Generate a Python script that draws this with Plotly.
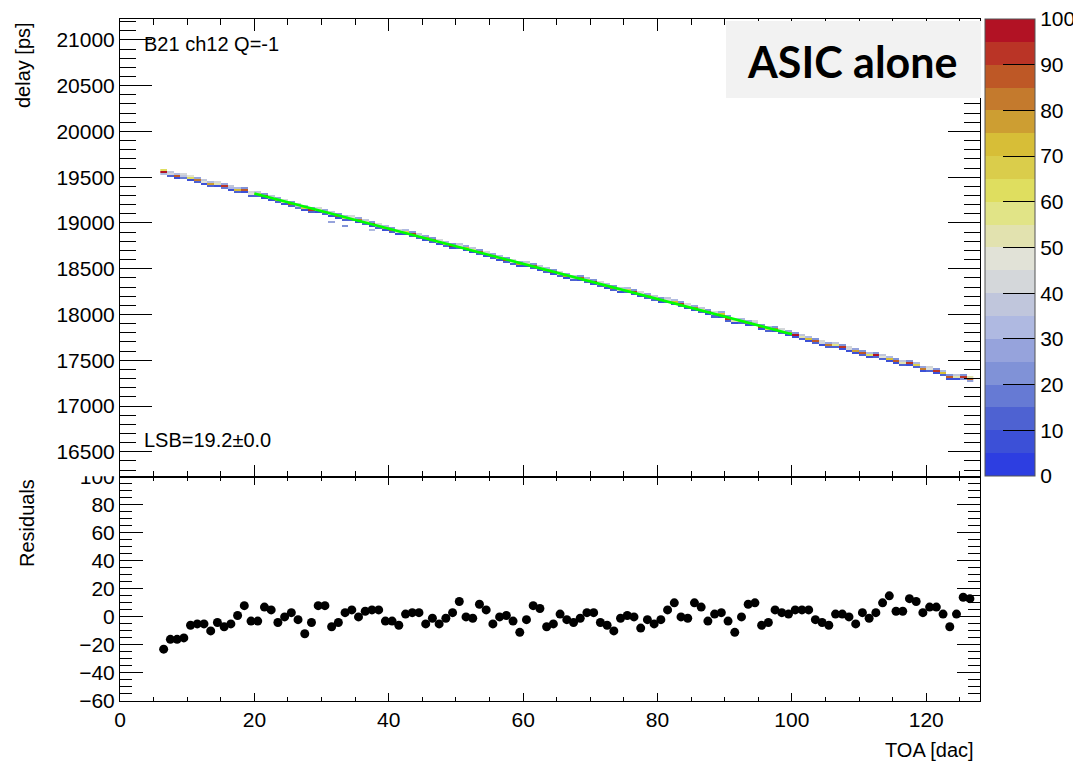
import plotly.graph_objects as go

# page body has an 8 px margin: build the figure 8 px smaller and shift
OFF = 8
W, H = 1081 - OFF, 765 - OFF

# ---------------- data ----------------
toa = [6.5 + i for i in range(121)]  # TOA bin centres [dac]

residuals = [
    -23, -16, -16, -15, -6, -5, -5, -10, -4, -7,
    -5, 1, 8, -3, -3, 7, 5, -4, 0, 3,
    -2, -12, -4, 8, 8, -7, -4, 3, 5, 0,
    4, 5, 5, -3, -3, -6,
    2, 3, 3, -5, -1, -5, -1, 3, 11, 0,
    -1, 9, 5, -5, 0, 1, -3, -11, -2, 8,
    6, -7, -5, 2, -2, -4, -1, 3, 3, -4,
    -6, -10, -1, 1, 0, -8, -2, -5, -2, 5,
    10, 0, -1, 10, 7, -3, 2, 3, -3, -11,
    0, 9, 10, -6, -4, 5, 3, 2, 5, 5,
    5, -2, -4, -6, 2, 2, 0, -5, 3, -1,
    3, 10, 15, 4, 4, 13, 11, 3, 7, 7,
    2, -7, 2, 14, 13,
]

fit_intercept = 19705.0   # ps
fit_slope = -19.2         # ps / dac  (LSB)
fit_range = [20, 100]     # dac

# counts in the most populated delay bin of each TOA column
peak_counts = [
    95, 40, 85, 35, 60, 80, 45, 75, 50, 92,
    30, 70, 88, 45, 60, 90, 40, 78, 55, 85,
    35, 65, 92, 50, 72, 40, 88, 60, 45, 80,
    55, 90, 38, 70, 85, 48, 62, 93, 40, 75,
    86, 52, 68, 95, 42, 74, 58, 88, 36, 80,
    64, 92, 46, 78, 55, 85, 40, 70, 90, 50,
    76, 44, 88, 60, 95, 38, 72, 84, 52, 66,
    90, 45, 78, 58, 86, 40, 70, 94, 48, 82,
    56, 88, 42, 74, 92, 50, 66, 80, 38, 90,
    60, 84, 46, 76, 95, 52, 70, 88, 40, 82,
    58, 92, 44, 78, 86, 62, 96, 48, 74, 88,
    54, 90, 66, 80, 45, 94, 70, 85, 50, 92,
    88,
]
# counts in the bin just above / just below the peak bin
upper_counts = [
    60, 35, 30, 40, 45, 25, 38, 30, 42, 28,
    36, 30, 22, 40, 35, 20, 38, 26, 40, 24,
    36, 32, 20, 42, 28, 38, 22, 34, 40, 26,
    38, 22, 40, 30, 24, 42, 34, 20, 38, 28,
    24, 40, 32, 20, 38, 28, 36, 22, 40, 26,
    34, 20, 40, 28, 36, 24, 38, 30, 22, 40,
    28, 38, 22, 34, 20, 40, 30, 24, 38, 32,
    22, 40, 28, 36, 24, 38, 30, 20, 40, 26,
    36, 22, 40, 28, 20, 38, 32, 26, 40, 22,
    34, 24, 40, 28, 20, 38, 30, 22, 40, 26,
    36, 20, 40, 28, 24, 34, 20, 38, 30, 24,
    38, 22, 32, 26, 40, 20, 30, 24, 38, 22,
    55,
]
lower_counts = [
    30, 10, 8, 15, 6, 12, 9, 14, 7, 18,
    8, 12, 6, 10, 14, 5, 9, 12, 7, 10,
    15, 6, 11, 8, 13, 9, 7, 12, 10, 6,
    14, 8, 10, 6, 12, 9, 7, 11, 13, 8,
    10, 6, 12, 8, 14, 7, 9, 11, 6, 12,
    8, 10, 14, 7, 9, 12, 6, 10, 8, 13,
    7, 11, 9, 12, 6, 14, 8, 10, 7, 12,
    9, 6, 11, 13, 8, 10, 7, 12, 9, 6,
    14, 8, 10, 7, 12, 6, 11, 9, 13, 8,
    10, 7, 12, 9, 6, 14, 8, 11, 7, 10,
    12, 8, 9, 6, 13, 7, 10, 12, 8, 9,
    11, 7, 12, 8, 10, 6, 13, 9, 7, 20,
    25,
]
# isolated low-count entries off the main band: (toa, delay, count)
stray_entries = [(31.5, 19010, 28), (33.5, 18975, 22), (37.5, 18930, 30)]

delay_bin = 22.0          # ps
delay_lo, delay_hi = 16228.0, 21228.0

cbar_ticks = [0, 10, 20, 30, 40, 50, 60, 70, 80, 90, 100]
palette = [
    "#2D3EE1", "#3C50D7", "#4E62D2", "#667AD4", "#8092D7",
    "#96A3DC", "#AFB9E1", "#C0C6DC", "#D4D7DA", "#E1E2D7",
    "#E2E2AF", "#E1E487", "#DFDE5F", "#DACD4B", "#D7BE37",
    "#CD9E32", "#C47A2D", "#BE5826", "#BA3426", "#B21224",
]

# ---------------- build histogram ----------------
nby = int((delay_hi - delay_lo) // delay_bin)
ycent = [delay_lo + delay_bin * (j + 0.5) for j in range(nby)]
z = [[None] * len(toa) for _ in range(nby)]


def put(ix, yval, c):
    j = int((yval - delay_lo) // delay_bin)
    if 0 <= j < nby and c > 0:
        z[j][ix] = c


for i, x in enumerate(toa):
    mean = fit_intercept + fit_slope * x + residuals[i]
    put(i, mean, peak_counts[i])
    put(i, mean + delay_bin, upper_counts[i])
    put(i, mean - delay_bin, lower_counts[i])
for (x, yv, c) in stray_entries:
    put(toa.index(x), yv, c)

cs = []
n = len(palette)
for k, col in enumerate(palette):
    cs.append([k / n, col])
    cs.append([(k + 1) / n, col])

# ---------------- figure ----------------
def px_x(p):
    return (p - OFF) / W


def px_y(p):
    return 1 - (p - OFF) / H


FONT = "Liberation Sans, Arial, Helvetica, sans-serif"

fig = go.Figure()
fig.add_trace(go.Heatmap(
    x=toa, y=ycent, z=z, zmin=0, zmax=100, colorscale=cs, zsmooth=False,
    xaxis="x", yaxis="y", hoverongaps=False,
    colorbar=dict(
        x=px_x(985), xanchor="left", xpad=0, y=px_y(19), yanchor="top", ypad=0,
        len=457 / H, lenmode="fraction", thickness=50, thicknessmode="pixels",
        tickmode="array", tickvals=cbar_ticks, ticklabeloverflow="allow",
        ticks="inside", ticklen=32, tickcolor="black",
        tickwidth=1, tickfont=dict(family=FONT, size=21, color="black"),
        outlinewidth=1, outlinecolor="#555555",
    ),
))
fit_x = fit_range
fit_y = [fit_intercept + fit_slope * v for v in fit_x]
fig.add_trace(go.Scatter(x=fit_x, y=fit_y, mode="lines",
                         line=dict(color="#00FF00", width=2.5),
                         xaxis="x", yaxis="y", showlegend=False))
fig.add_trace(go.Scatter(x=toa, y=residuals, mode="markers",
                         marker=dict(color="black", size=9),
                         xaxis="x2", yaxis="y2", showlegend=False))

dom_x = [px_x(120), px_x(980)]
split = px_y(476.7)
common = dict(showline=True, linecolor="black", linewidth=1, mirror="ticks",
              ticks="inside", tickcolor="black", tickwidth=1, showgrid=False,
              zeroline=False, tickformat="d", automargin=False,
              tickfont=dict(family=FONT, size=21, color="black"))

fig.update_layout(
    width=W, height=H,
    margin=dict(l=0, r=0, t=0, b=0, autoexpand=False),
    paper_bgcolor="white", plot_bgcolor="white", showlegend=False,
    xaxis=dict(domain=dom_x, range=[0, 128], anchor="y", dtick=20, tick0=0,
               ticklen=12, showticklabels=False,
               minor=dict(dtick=5, tick0=0, ticklen=6, ticks="inside",
                          tickcolor="black", showgrid=False), **common),
    yaxis=dict(domain=[split, px_y(19)], range=[delay_lo, delay_hi], anchor="x",
               dtick=500, tick0=0, ticklen=32,
               minor=dict(dtick=100, tick0=0, ticklen=16, ticks="inside",
                          tickcolor="black", showgrid=False), **common),
    xaxis2=dict(domain=dom_x, range=[0, 128], anchor="y2", dtick=20, tick0=0,
                ticklen=8,
                minor=dict(dtick=5, tick0=0, ticklen=4, ticks="inside",
                           tickcolor="black", showgrid=False), **common),
    yaxis2=dict(domain=[px_y(701), split], range=[-60, 100], anchor="x2",
                dtick=20, tick0=0, ticklen=23,
                minor=dict(dtick=5, tick0=0, ticklen=12, ticks="inside",
                           tickcolor="black", showgrid=False), **common),
)

shapes = [
    dict(type="rect", xref="paper", yref="paper", x0=px_x(50), x1=px_x(117),
         y0=px_y(476.2), y1=px_y(463), fillcolor="white", line=dict(width=0),
         layer="above"),
    dict(type="rect", xref="paper", yref="paper", x0=px_x(726), x1=px_x(981),
         y0=px_y(98), y1=px_y(21), fillcolor="#F2F2F2", line=dict(width=0),
         layer="above"),
]
fig.update_layout(shapes=shapes)

ann = [
    dict(text="delay [ps]", x=px_x(23), y=px_y(20), xanchor="center",
         yanchor="top", textangle=-90, font=dict(size=20)),
    dict(text="Residuals", x=px_x(27), y=px_y(477), xanchor="center",
         yanchor="top", textangle=-90, font=dict(size=20)),
    dict(text="TOA [dac]", x=px_x(976), y=px_y(750), xanchor="right",
         yanchor="middle", font=dict(size=20)),
    dict(text="B21 ch12 Q=-1", x=px_x(142), y=px_y(44), xanchor="left",
         yanchor="middle", font=dict(size=20)),
    dict(text="LSB=19.2±0.0", x=px_x(142), y=px_y(440), xanchor="left",
         yanchor="middle", font=dict(size=20)),
    dict(text="<b>ASIC alone</b>", x=px_x(852), y=px_y(61), xanchor="center",
         yanchor="middle",
         font=dict(size=43, family="Lato, Open Sans, sans-serif", color="black")),
]
for a in ann:
    a.setdefault("xref", "paper")
    a.setdefault("yref", "paper")
    a["showarrow"] = False
    f = a["font"]
    f.setdefault("family", FONT)
    f.setdefault("color", "black")
fig.update_layout(annotations=ann)

fig.write_html("out.html")
